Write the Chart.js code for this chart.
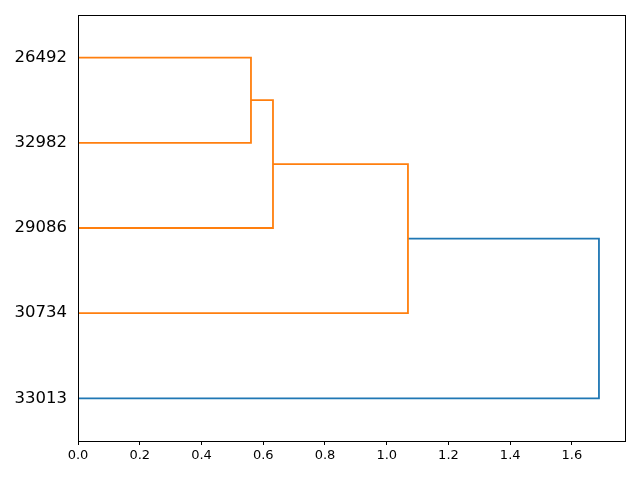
<!DOCTYPE html>
<html>
<head>
<meta charset="utf-8">
<script src="https://cdn.jsdelivr.net/npm/chart.js@4/dist/chart.umd.min.js"></script>
<style>
html,body{margin:0;padding:0;background:#fff;}
#wrap{width:640px;height:480px;}
</style>
</head>
<body>
<div id="wrap"><canvas id="c" width="640" height="480"></canvas></div>
<script>
// Leaf labels, bottom to top
const leafLabels = ['33013', '30734', '29086', '32982', '26492'];
// Linkage (scipy style): node ids 0..4 are leaves, 5.. are merges in order
const linkChildA = [4, 5, 6, 7];
const linkChildB = [3, 2, 1, 0];
const linkHeights = [0.5603, 0.6316, 1.0688, 1.6875];
const linkColors = ['#ff7f0e', '#ff7f0e', '#ff7f0e', '#1f77b4'];
const xTickValues = [0.0, 0.2, 0.4, 0.6, 0.8, 1.0, 1.2, 1.4, 1.6];

const n = leafLabels.length;
const nodeY = leafLabels.map((_, i) => 5 + 10 * i);
const nodeH = leafLabels.map(() => 0);
const datasets = [];
for (let k = 0; k < linkHeights.length; k++) {
  const a = linkChildA[k], b = linkChildB[k], h = linkHeights[k];
  datasets.push({
    data: [{x: nodeH[a], y: nodeY[a]}, {x: h, y: nodeY[a]}, {x: h, y: nodeY[b]}, {x: nodeH[b], y: nodeY[b]}],
    borderColor: linkColors[k],
    backgroundColor: linkColors[k],
    borderWidth: 1.8,
    showLine: true,
    pointRadius: 0,
    fill: false,
    tension: 0
  });
  nodeY.push((nodeY[a] + nodeY[b]) / 2);
  nodeH.push(h);
}
const xMax = Math.max(...linkHeights) * 1.05;
const leafYs = leafLabels.map((_, i) => 5 + 10 * i);

const frame = {
  id: 'frame',
  afterDraw(chart) {
    const {ctx, chartArea: a} = chart;
    ctx.save();
    ctx.strokeStyle = '#000';
    ctx.lineWidth = 1;
    ctx.strokeRect(Math.round(a.left) + 0.5, Math.round(a.top) + 0.5, Math.round(a.right - a.left), Math.round(a.bottom - a.top));
    ctx.restore();
  }
};

new Chart(document.getElementById('c'), {
  type: 'scatter',
  data: {datasets},
  options: {
    responsive: false,
    animation: false,
    layout: {padding: {left: 0, top: 15, right: 15, bottom: 0}},
    plugins: {legend: {display: false}, tooltip: {enabled: false}},
    scales: {
      x: {
        type: 'linear', min: 0, max: xMax,
        border: {display: false},
        grid: {display: true, drawOnChartArea: false, tickLength: 4, color: '#000', tickColor: '#000'},
        afterBuildTicks(s) { s.ticks = xTickValues.map(v => ({value: v})); },
        afterFit(s) { s.height = 39; s.paddingLeft = 0; s.paddingRight = 0; },
        ticks: {
          color: '#000', padding: 3, maxRotation: 0, autoSkip: false,
          font: {family: 'DejaVu Sans', size: 13},
          callback: v => Number(v).toFixed(1)
        }
      },
      y: {
        type: 'linear', min: 0, max: 10 * n,
        border: {display: false},
        grid: {display: false},
        afterBuildTicks(s) { s.ticks = leafYs.map(v => ({value: v})); },
        afterFit(s) { s.width = 78; s.paddingTop = 0; s.paddingBottom = 0; },
        ticks: {
          color: '#000', padding: 3, autoSkip: false,
          font: {family: 'DejaVu Sans', size: 16.5},
          callback: v => { const i = leafYs.indexOf(v); return i >= 0 ? leafLabels[i] : ''; }
        }
      }
    }
  },
  plugins: [frame]
});
</script>
</body>
</html>
